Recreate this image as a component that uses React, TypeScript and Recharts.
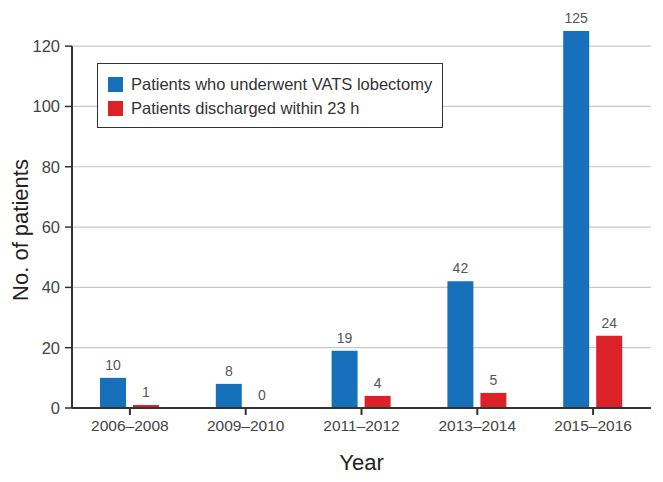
import React from "react";
import { BarChart, Bar, XAxis, YAxis, CartesianGrid, Legend, LabelList, Label, ReferenceLine } from "recharts";

const years = ["2006–2008", "2009–2010", "2011–2012", "2013–2014", "2015–2016"];
const vatsLobectomy = [10, 8, 19, 42, 125];
const discharged23h = [1, 0, 4, 5, 24];
const yTicks = [0, 20, 40, 60, 80, 100, 120];
const seriesNames = ["Patients who underwent VATS lobectomy", "Patients discharged within 23 h"];

const BLUE = "#1671ba";
const RED = "#dc2128";
const FONT = "'Liberation Sans', Arial, sans-serif";

const data = years.map((year, i) => ({
  year,
  vats: vatsLobectomy[i],
  discharged: discharged23h[i],
}));

// boxed legend in the upper left of the plot
function LegendBox(props: any) {
  const items = [...(props.payload || [])].sort(
    (a: any, b: any) => seriesNames.indexOf(a.value) - seriesNames.indexOf(b.value)
  );
  return (
    <div
      style={{
        border: "1.5px solid #333",
        background: "#fff",
        padding: "8px 10px 7px 10px",
        width: 346,
        boxSizing: "border-box",
        whiteSpace: "nowrap",
        fontFamily: FONT,
        fontSize: 16.5,
        color: "#333",
        textAlign: "left",
      }}
    >
      {items.map((it: any) => (
        <div key={it.value} style={{ display: "flex", alignItems: "center", height: 24 }}>
          <span style={{ width: 15, height: 15, flex: "none", background: it.color, marginRight: 8, display: "inline-block" }} />
          <span>{it.value}</span>
        </div>
      ))}
    </div>
  );
}

export default function App() {
  return (
    <div style={{ width: 663, height: 482, background: "#fff" }}>
      <style>{`body{margin:0}`}</style>
      <BarChart
        width={663}
        height={482}
        data={data}
        margin={{ top: 16, right: 12, bottom: 0, left: 12 }}
        barGap={7}
        barSize={26}
      >
        <CartesianGrid vertical={false} horizontalValues={yTicks.slice(1)} stroke="#c8c8c8" strokeWidth={1.2} />
        <XAxis
          dataKey="year"
          height={74}
          stroke="#333"
          strokeWidth={2}
          tickSize={7}
          tick={{ fill: "#444", fontSize: 15.5, fontFamily: FONT }}
          tickMargin={5}
          interval={0}
        >
          <Label value="Year" position="insideBottom" offset={12} style={{ fill: "#222", fontSize: 22, fontFamily: FONT }} />
        </XAxis>
        <YAxis
          domain={[0, 130]}
          ticks={yTicks}
          width={60}
          axisLine={false}
          stroke="#333"
          tickSize={7}
          tickLine={{ stroke: "#333", strokeWidth: 1.5 }}
          tick={{ fill: "#444", fontSize: 16.5, fontFamily: FONT }}
          tickMargin={5}
        >
          <Label
            value="No. of patients"
            angle={-90}
            position="insideLeft"
            offset={8}
            dy={18}
            style={{ textAnchor: "middle", fill: "#222", fontSize: 22, fontFamily: FONT }}
          />
        </YAxis>
        <ReferenceLine
          segment={[{ x: years[0], y: 0 }, { x: years[0], y: 120 }]}
          position="start"
          stroke="#333"
          strokeWidth={2}
        />
        <Legend
          content={<LegendBox />}
          layout="vertical"
          verticalAlign="middle"
          align="center"
          wrapperStyle={{ top: 63, left: 97, width: "auto" }}
        />
        <Bar dataKey="vats" name={seriesNames[0]} fill={BLUE} isAnimationActive={false}>
          <LabelList dataKey="vats" position="top" offset={8} style={{ fill: "#555", fontSize: 14, fontFamily: FONT }} />
        </Bar>
        <Bar dataKey="discharged" name={seriesNames[1]} fill={RED} minPointSize={0.01} isAnimationActive={false}>
          <LabelList dataKey="discharged" position="top" offset={8} style={{ fill: "#555", fontSize: 14, fontFamily: FONT }} />
        </Bar>
      </BarChart>
    </div>
  );
}
